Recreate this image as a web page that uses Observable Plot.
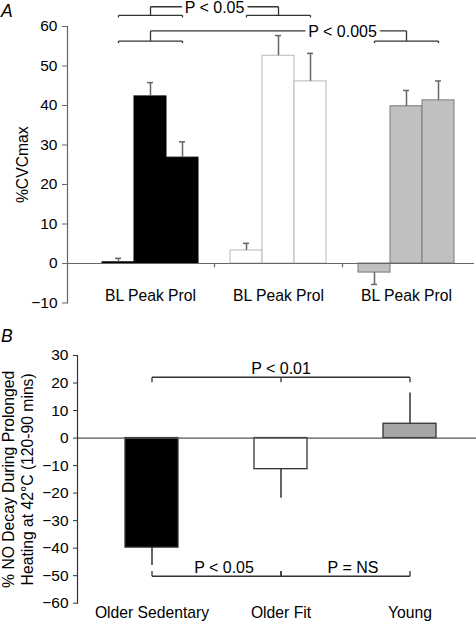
<!DOCTYPE html>
<html><head><meta charset="utf-8">
<script src="https://cdn.jsdelivr.net/npm/d3@7"></script>
<script src="https://cdn.jsdelivr.net/npm/@observablehq/plot@0.6"></script>
<style>
body{margin:0;background:#fff;}
#wrap{position:relative;width:476px;height:622px;font-family:"Liberation Sans",Arial,sans-serif;overflow:hidden;}
.panel{position:absolute;left:0;}
.plabel{position:absolute;font-style:italic;font-size:17.5px;line-height:1;color:#000;}
</style></head><body>
<div id="wrap">
  <div id="a" class="panel" style="top:0px"></div>
  <div id="b" class="panel" style="top:312px"></div>
  <div class="plabel" style="left:1px;top:3px">A</div>
  <div class="plabel" style="left:1px;top:328px">B</div>
</div>
<script>
// ---------- Panel A data ----------
const groupsA = ["Older Sedentary", "Older Fit", "Young"];
const condsA = ["BL", "Peak", "Prol"];
const valuesA = [
  [0.3, 42.3, 26.8],
  [3.3, 52.6, 46.1],
  [-2.3, 39.8, 41.3]
];
const errorsA = [
  [1.0, 3.5, 4.0],
  [1.8, 5.1, 7.1],
  [3.0, 4.0, 4.9]
];
const ticksA = [-10, 0, 10, 20, 30, 40, 50, 60];
const groupLabelA = "BL Peak Prol";
const yLabelA = "%CVCmax";
const sigFromA = [0, 0];
const sigToA = [1, 2];
const sigLabelsA = ["P < 0.05", "P < 0.005"];
const sigBracketA = [62.8, 56.3];
const sigTopA = [65.0, 58.9];

// ---------- Panel B data ----------
const groupsB = ["Older Sedentary", "Older Fit", "Young"];
const valuesB = [-39.8, -11.3, 5.2];
const errorsB = [6.5, 10.6, 11.2];
const ticksB = [-60, -50, -40, -30, -20, -10, 0, 10, 20, 30];
const yLabelB = "% NO Decay During Prolonged\nHeating at 42°C (120-90 mins)";
const sigLabelsB = ["P < 0.01", "P < 0.05", "P = NS"];
const sigFromB = [0, 0, 1];
const sigToB = [2, 1, 2];
const sigLevelB = [22.1, -50.2, -50.2];
const sigTickB = [-1.8, 1.9, 1.9];

// ---------- styles ----------
const fillMap = {"Older Sedentary": "#000000", "Older Fit": "#ffffff", "Young": "#c0c0c0"};
const strokeMapA = {"Older Sedentary": "#000000", "Older Fit": "#b8b8b8", "Young": "#7a7a7a"};
const fillMapB = {"Older Sedentary": "#000000", "Older Fit": "#ffffff", "Young": "#a6a6a6"};
const FONT = "Liberation Sans, Arial, Helvetica, sans-serif";
const fmt = d => d < 0 ? "\u2212" + (-d) : String(d);

// ---------- Panel A ----------
const key = (g, c) => g + "|" + c;
const domainA = groupsA.flatMap((g, i) => [
  ...condsA.map(c => key(g, c)),
  ...(i < groupsA.length - 1 ? [key(g, "gap")] : [])
]);
const gapKeys = groupsA.slice(0, -1).map(g => key(g, "gap"));
const rowsA = groupsA.flatMap((g, i) => condsA.map((c, j) => ({
  group: g, cond: c, key: key(g, c),
  value: valuesA[i][j], err: errorsA[i][j],
  end: valuesA[i][j] + Math.sign(valuesA[i][j]) * errorsA[i][j]
})));

const sigA = sigLabelsA.map((label, i) => ({
  label, from: groupsA[sigFromA[i]], to: groupsA[sigToA[i]],
  mid: gapKeys[sigToA[i] - 1], bracket: sigBracketA[i], top: sigTopA[i]
}));
const connA = sigA.map(s => ({x1: key(s.from, "Peak"), x2: key(s.to, "Peak"), y1: s.top, y2: s.top}));
const brA = sigA.flatMap(s => [s.from, s.to].flatMap(g => [
  {x1: key(g, "BL"), x2: key(g, "Prol"), y1: s.bracket, y2: s.bracket},
  {x1: key(g, "BL"), x2: key(g, "BL"), y1: s.bracket, y2: s.bracket - 0.5},
  {x1: key(g, "Prol"), x2: key(g, "Prol"), y1: s.bracket, y2: s.bracket - 0.5},
  {x1: key(g, "Peak"), x2: key(g, "Peak"), y1: s.bracket, y2: s.top}
]));

const plotA = Plot.plot({
  width: 476, height: 312,
  marginLeft: 67, marginRight: 2, marginTop: 26, marginBottom: 9.5,
  style: {fontFamily: FONT, fontSize: "15.7px", background: "transparent"},
  x: {type: "band", domain: domainA, paddingInner: 0, paddingOuter: 0.667, align: 0.636, axis: null},
  y: {domain: [-10, 60], axis: null},
  color: {type: "identity"},
  marks: [
    Plot.barY(rowsA, {x: "key", y: "value", fill: d => fillMap[d.group], stroke: d => strokeMapA[d.group], strokeWidth: 1}),
    Plot.ruleX(rowsA, {x: "key", y1: "value", y2: "end", stroke: "#666", strokeWidth: 1.5}),
    Plot.tickY(rowsA, {x: "key", y: "end", stroke: "#666", strokeWidth: 1.5, insetLeft: 13, insetRight: 13}),
    Plot.ruleY([0], {stroke: "#666", strokeWidth: 1.2}),
    Plot.ruleX(gapKeys, {x: d => d, y1: 0, y2: -1.1, stroke: "#666", strokeWidth: 1.2}),
    Plot.frame({anchor: "left", stroke: "#666", strokeWidth: 1.2}),
    Plot.axisY(ticksA, {tickSize: 5, tickPadding: 5, tickFormat: fmt, fontSize: 15.5, stroke: "#666", label: null}),
    Plot.text([yLabelA], {frameAnchor: "left", rotate: -90, dx: -45, textAnchor: "middle", lineAnchor: "middle", fontSize: 15.7}),
    Plot.text(groupsA, {x: g => key(g, "Peak"), y: -8.2, text: () => groupLabelA, fontSize: 15.7, lineAnchor: "middle"}),
    Plot.link(connA, {x1: "x1", x2: "x2", y1: "y1", y2: "y2", stroke: "#333", strokeWidth: 1.3}),
    Plot.text(sigA, {x: "mid", y: "top", text: "label", fontSize: 16, lineAnchor: "middle", dy: 1.5, fill: "#000", stroke: "#fff", strokeWidth: 8}),
    Plot.link(brA, {x1: "x1", x2: "x2", y1: "y1", y2: "y2", stroke: "#333", strokeWidth: 1.3})
  ]
});
document.getElementById("a").append(plotA);

// ---------- Panel B ----------
const rowsB = groupsB.map((g, i) => ({
  group: g, value: valuesB[i], err: errorsB[i],
  end: valuesB[i] + Math.sign(valuesB[i]) * errorsB[i]
}));
const sigB = sigLabelsB.map((label, i) => ({
  label, from: groupsB[sigFromB[i]], to: groupsB[sigToB[i]], level: sigLevelB[i], tick: sigTickB[i]
}));
const segB = sigB.flatMap(s => {
  const ends = [s.from, s.to];
  if (groupsB.indexOf(s.to) - groupsB.indexOf(s.from) > 1) ends.push(groupsB[1]);
  return [
    {x1: s.from, x2: s.to, y1: s.level, y2: s.level},
    ...ends.map(g => ({x1: g, x2: g, y1: s.level, y2: s.level + s.tick}))
  ];
});
const topSig = sigB.filter(s => s.tick < 0).map(s => ({...s, mid: groupsB[1]}));
const botSig = sigB.filter(s => s.tick > 0);

const plotB = Plot.plot({
  width: 476, height: 310,
  marginLeft: 77, marginRight: 0, marginTop: 43, marginBottom: 19.3,
  style: {fontFamily: FONT, fontSize: "15.7px", background: "transparent"},
  x: {type: "band", domain: groupsB, paddingInner: 0.592, paddingOuter: 0.331, align: 0.547},
  y: {domain: [-60, 30], axis: null},
  color: {type: "identity"},
  marks: [
    Plot.barY(rowsB, {x: "group", y: "value", fill: d => fillMapB[d.group], stroke: "#333", strokeWidth: 1.3}),
    Plot.ruleX(rowsB, {x: "group", y1: "value", y2: "end", stroke: "#333", strokeWidth: 1.5}),
    Plot.ruleY([0], {stroke: "#555", strokeWidth: 1.3}),
    Plot.frame({anchor: "left", stroke: "#333", strokeWidth: 1.2}),
    Plot.axisY(ticksB, {tickSize: 4, tickPadding: 5, tickFormat: fmt, fontSize: 15.5, stroke: "#333", label: null}),
    Plot.axisX({tickSize: 0, tickPadding: 4, fontSize: 15.7, label: null}),
    Plot.text([yLabelB], {frameAnchor: "left", rotate: -90, dx: -60, textAnchor: "middle", lineAnchor: "middle", lineHeight: 1.18, fontSize: 15.7}),
    Plot.link(segB, {x1: "x1", x2: "x2", y1: "y1", y2: "y2", stroke: "#333", strokeWidth: 1.3}),
    Plot.text(topSig, {x: "mid", y: "level", text: "label", fontSize: 16, lineAnchor: "bottom", dy: -3}),
    Plot.text(botSig, {x: "from", y: "level", text: "label", fontSize: 16, lineAnchor: "bottom", dy: -3, dx: 72})
  ]
});
document.getElementById("b").append(plotB);
</script>
</body></html>
